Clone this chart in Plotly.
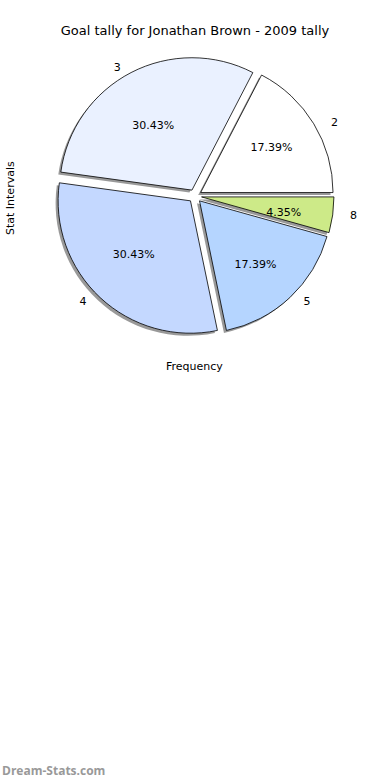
import plotly.graph_objects as go

categories = ["2", "3", "4", "5", "8"]
counts = [4, 7, 7, 4, 1]
colors = ["#ffffff", "#eaf1ff", "#c4d8ff", "#b5d5ff", "#cdea88"]
label_templates = ["    %{label}", "%{label}  ", "%{label}   ", "   %{label}", "    %{label}"]
pct_templates = ["%{percent:.2%}  ", "%{percent:.2%}   ", "%{percent:.2%}    ",
                 "%{percent:.2%}  ", "%{percent:.2%}" + " " * 19]

W, H = 390, 780
cx, cy, R = 195, 196, 139
pull = 0.05
rot = 90 - 360 * counts[0] / sum(counts)

def dom(dx=0, dy=0):
    return dict(x=[(cx - R + dx) / W, (cx + R + dx) / W],
                y=[(H - cy - R - dy) / H, (H - cy + R - dy) / H])

def px(x):
    return x / W

def py(y):
    return 1 - y / H

font = dict(family="DejaVu Sans", size=11, color="#000000")

common = dict(labels=categories, values=counts, sort=False, direction="counterclockwise",
              rotation=rot, pull=[pull] * len(counts), showlegend=False)

fig = go.Figure()
# shadow
fig.add_trace(go.Pie(**common, domain=dom(-2.5, 2.5),
                     marker=dict(colors=["rgba(0,0,0,0.4)"] * len(counts), line=dict(width=0)),
                     textinfo="none", hoverinfo="skip"))
# main slices with outside labels
fig.add_trace(go.Pie(**common, domain=dom(),
                     marker=dict(colors=colors, line=dict(color="#000000", width=0.8)),
                     texttemplate=label_templates, textposition="outside", outsidetextfont=font))
# percentages inside
fig.add_trace(go.Pie(**common, domain=dom(),
                     marker=dict(colors=["rgba(0,0,0,0)"] * len(counts), line=dict(width=0)),
                     texttemplate=pct_templates, textposition="inside",
                     insidetextorientation="horizontal", insidetextfont=font,
                     hoverinfo="skip"))

fig.update_layout(
    width=W, height=H, margin=dict(l=0, r=0, t=0, b=0),
    paper_bgcolor="#ffffff", plot_bgcolor="#ffffff",
    uniformtext=dict(mode="show", minsize=11),
    title=dict(text="Goal tally for Jonathan Brown - 2009 tally", x=px(195), xanchor="center",
               y=py(30), yanchor="middle",
               font=dict(family="DejaVu Sans", size=13, color="#000000")),
    annotations=[
        dict(text="Stat Intervals", x=px(10), y=py(198), xref="paper", yref="paper",
             textangle=-90, showarrow=False, font=font, xanchor="center", yanchor="middle"),
        dict(text="Frequency", x=px(194), y=py(366), xref="paper", yref="paper",
             showarrow=False, font=font, xanchor="center", yanchor="middle"),
        dict(text="<b>Dream-Stats.com</b>", x=px(0), y=py(770), xref="paper", yref="paper",
             showarrow=False, xanchor="left", yanchor="middle",
             font=dict(family="Open Sans", size=12, color="#999999")),
    ],
)

fig.write_html("out.html", config={"displayModeBar": False},
               post_script="document.body.style.margin='0';")
